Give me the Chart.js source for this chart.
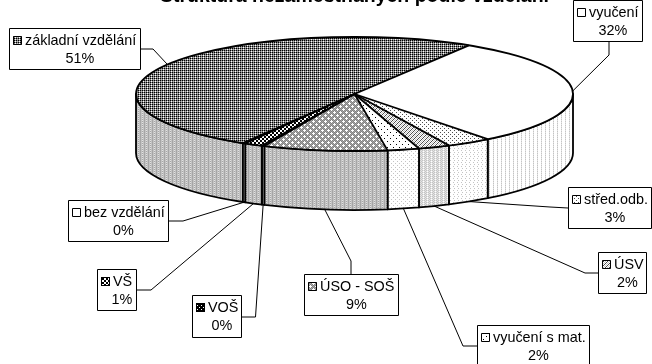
<!DOCTYPE html>
<html><head><meta charset="utf-8">
<style>html,body{margin:0;padding:0;background:#fff;overflow:hidden}#w{width:652px;height:364px;position:relative}</style>
<script src="https://cdn.jsdelivr.net/npm/chart.js@4"></script>
</head><body><div id="w"><canvas id="c" width="652" height="364"></canvas></div>
<script>
const chartTitle = "Struktura nezaměstnaných podle vzdělání";
const categories = ["základní vzdělání","vyučení","střed.odb.","ÚSV","vyučení s mat.","ÚSO - SOŠ","VOŠ","VŠ","bez vzdělání"];
const shares = [51.4,31.5,3.4,2.4,2.4,9.4,0.2,1.4,0.2];

// hatch tiles
const palette = {k:"#000",d:"#4d4d4d",g:"#808080",m:"#a6a6a6",l:"#c4c4c4",p:"#e2e2e2",w:"#fff"};
const topTiles = [
 ["kgkg","glgw"],
 ["w"],
 ["dwww","wwww","wwdw","wwww"],
 ["dwlw","wlwd","lwdw","wdwl"],
 ["kwwwww","wwwwww","wwwwww","wwwkww","wwwwww","wwwwww"],
 ["gwgmgm","wwwgmg","gwgmgm","mgmgwg","gmgwww","mgmgwg"],
 ["kkkk","kwkk","kkkk","kkkw"],
 ["kkww","kkww","wwkk","wwkk"],
 ["w"]
];
const sideTiles = [
 ["mlpl","mlml"],
 ["wpww","wlww"],
 ["wwlw","wwww","wlww","wwww"],
 ["lplp","plpw"],
 ["wwww","wlww","wwww","wwwl"],
 ["mlpl","mlml"],
 ["mlpl","mlml"],
 ["mlpl","mlml"],
 ["mlpl","mlml"]
];
// label boxes: left, top, width, height; elbow of each leader line
const labelBoxes = [[9,28,132,42],[573,0,70,42],[568,187,84,42],[598,252,49,42],[477,325,113,42],[304,274,95,42],[192,295,50,43],[97,269,40,42],[68,200,101,42]];
const leaderStart = [[141,49],[609,42],[568,208],[598,273],[477,346],[351,274],[242,317],[137,290],[169,221]];
const leaderElbow = [[153,49],[609,55],[550,207],[585,273],[463,346],[351,261],[255.5,317],[151,290],[183,221]];
// pie geometry
const pieCenterY = 94, pieRadiusX = 218.5, pieRadiusY = 57, pieDepth = 59;
const firstAngle = -149.3;

function tilePattern(rows){
  const c=document.createElement("canvas");c.width=rows[0].length;c.height=rows.length;
  const x=c.getContext("2d");
  rows.forEach((r,j)=>[...r].forEach((ch,i)=>{x.fillStyle=palette[ch];x.fillRect(i,j,1,1)}));
  return document.createElement("canvas").getContext("2d").createPattern(c,"repeat");
}
const topPatterns=topTiles.map(tilePattern), sidePatterns=sideTiles.map(tilePattern), swatchPatterns=topTiles.map(tilePattern);

const fmt=a=>{const t=2*Math.PI;return((a%t)+t)%t};
const pie3d={
 id:"pie3d",
 beforeDatasetsDraw(chart){
  const ctx=chart.ctx,arcs=chart.getDatasetMeta(0).data,k=pieRadiusY/pieRadiusX,cx=arcs[0].x;
  ctx.lineJoin="round";
  // side wall
  arcs.forEach((a,i)=>{
    let s=fmt(a.startAngle),e=s+(a.endAngle-a.startAngle);
    const spans=[[s,e],[s-2*Math.PI,e-2*Math.PI]];
    spans.forEach(([u,v])=>{
      const a0=Math.max(u,0),a1=Math.min(v,Math.PI);
      if(a1<=a0)return;
      ctx.beginPath();
      ctx.ellipse(cx,pieCenterY,pieRadiusX,pieRadiusY,0,a0,a1);
      ctx.ellipse(cx,pieCenterY+pieDepth,pieRadiusX,pieRadiusY,0,a1,a0,true);
      ctx.closePath();
      ctx.fillStyle=sidePatterns[i];ctx.fill();
      ctx.strokeStyle="#000";ctx.lineWidth=1.8;ctx.stroke();
    });
  });
  ctx.save();
  ctx.translate(cx,pieCenterY);ctx.scale(1,k);ctx.translate(-cx,-arcs[0].y);
  const m=ctx.getTransform().inverse();
  topPatterns.forEach(p=>p.setTransform(m));
 },
 afterDatasetsDraw(chart){
  const ctx=chart.ctx,arcs=chart.getDatasetMeta(0).data,cx=arcs[0].x;
  ctx.restore();
  // top face outlines
  ctx.strokeStyle="#000";ctx.lineWidth=1.8;
  arcs.forEach(a=>{
    ctx.beginPath();
    ctx.moveTo(cx,pieCenterY);
    ctx.lineTo(cx+pieRadiusX*Math.cos(a.startAngle),pieCenterY+pieRadiusY*Math.sin(a.startAngle));
    ctx.stroke();
  });
  ctx.beginPath();ctx.ellipse(cx,pieCenterY,pieRadiusX,pieRadiusY,0,0,2*Math.PI);ctx.stroke();
  // labels
  arcs.forEach((a,i)=>{
    const mid=(a.startAngle+a.endAngle)/2,front=Math.sin(mid)>0;
    const ax=cx+pieRadiusX*Math.cos(mid),ay=pieCenterY+pieRadiusY*Math.sin(mid)+(front?pieDepth:0);
    ctx.beginPath();ctx.moveTo(leaderStart[i][0],leaderStart[i][1]);
    ctx.lineTo(leaderElbow[i][0],leaderElbow[i][1]);ctx.lineTo(ax,ay);
    ctx.lineWidth=1;ctx.strokeStyle="#000";ctx.stroke();
    const [x,y,w,h]=labelBoxes[i];
    ctx.fillStyle="#fff";ctx.fillRect(x,y,w,h);
    ctx.strokeRect(x+.5,y+.5,w-1,h-1);
    ctx.font='14.4px "Liberation Sans"';ctx.textBaseline="alphabetic";ctx.textAlign="left";
    const sx=x+4;
    ctx.fillStyle=swatchPatterns[i];ctx.fillRect(sx,y+8,9,9);
    ctx.strokeRect(sx+.5,y+8.5,8,8);
    ctx.fillStyle="#000";ctx.fillText(categories[i],sx+12,y+17);
    ctx.textAlign="center";ctx.fillText(Math.round(shares[i])+"%",x+w/2+5,y+35);
  });
 }
};
new Chart(document.getElementById("c"),{
 type:"pie",
 data:{labels:categories,datasets:[{data:shares,backgroundColor:topPatterns,borderWidth:0,radius:pieRadiusX,clip:false}]},
 plugins:[pie3d],
 options:{
  responsive:false,animation:false,events:[],rotation:firstAngle,
  layout:{padding:{left:57}},
  plugins:{legend:{display:false},tooltip:{enabled:false},
   title:{display:true,text:chartTitle,fullSize:false,color:"#000",font:{family:'"Liberation Sans"',size:19.5,weight:"bold"},padding:{top:-15,bottom:0}}}
 }
});
</script></body></html>
